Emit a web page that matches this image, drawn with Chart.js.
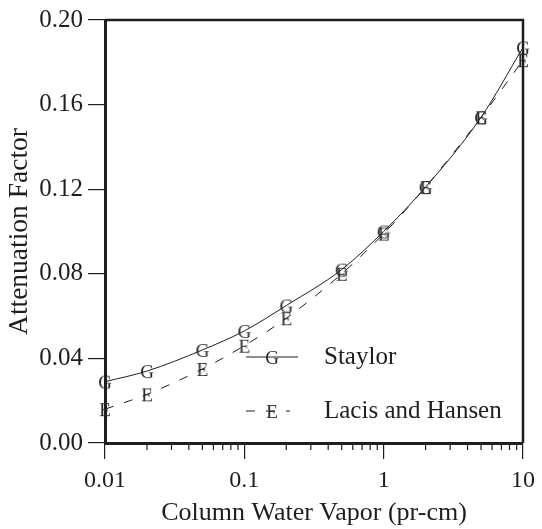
<!DOCTYPE html>
<html>
<head>
<meta charset="utf-8">
<script src="https://cdn.jsdelivr.net/npm/chart.js@4/dist/chart.umd.min.js"></script>
<style>
  html, body { margin: 0; padding: 0; background: #fff; }
  canvas { display: block; }
</style>
</head>
<body>
<canvas id="chart" width="542" height="529"></canvas>
<script>
// water vapour amounts (pr-cm)
const vapor = [0.01, 0.02, 0.05, 0.1, 0.2, 0.5, 1, 2, 5, 10];
const staylor = [0.029, 0.034, 0.044, 0.053, 0.065, 0.082, 0.100, 0.121, 0.154, 0.187];
const lacisHansen = [0.016, 0.023, 0.035, 0.046, 0.059, 0.080, 0.099, 0.121, 0.154, 0.181];

const yTicks = [0, 0.04, 0.08, 0.12, 0.16, 0.20];
const xDecades = [0.01, 0.1, 1, 10];
const seriesNames = ['Staylor', 'Lacis and Hansen'];

const ink = '#1e1e1e';
const serif = '"Liberation Serif", "Times New Roman", serif';

// letters used as point markers
function letterMarker(ch) {
  const c = document.createElement('canvas');
  c.width = 18; c.height = 20;
  const g = c.getContext('2d');
  g.font = '19px "Liberation Serif", serif';
  g.fillStyle = '#2a2a2a';
  g.textAlign = 'center';
  g.textBaseline = 'alphabetic';
  g.fillText(ch, 9, 16.5);
  return c;
}

// minor ticks 2..9 of each decade
const xTickVals = [];
xDecades.forEach((d, i) => {
  xTickVals.push({ value: d, major: true });
  if (i < xDecades.length - 1) {
    for (let k = 2; k <= 9; k++) xTickVals.push({ value: +(d * k).toPrecision(3), major: false });
  }
});

function build() {
  const markG = letterMarker('G');
  const markE = letterMarker('E');

  const frame = {
    id: 'frame',
    afterDraw(chart) {
      const { ctx, chartArea: a } = chart;
      ctx.save();
      ctx.strokeStyle = ink;
      ctx.lineWidth = 2.5;
      ctx.beginPath();
      ctx.moveTo(a.left, a.top);
      ctx.lineTo(a.right, a.top);
      ctx.lineTo(a.right, a.bottom);
      ctx.stroke();
      // short minor ticks on x axis
      const xs = chart.scales.x;
      ctx.lineWidth = 1.2;
      xTickVals.forEach(t => {
        if (t.major) return;
        const px = xs.getPixelForValue(t.value);
        ctx.beginPath();
        ctx.moveTo(px, a.bottom);
        ctx.lineTo(px, a.bottom + 7);
        ctx.stroke();
      });
      // legend inside plot
      const lx = a.left + 141, lw = 52;
      const rows = [a.top + 337, a.top + 391];
      ctx.lineWidth = 1;
      ctx.beginPath();
      ctx.moveTo(lx, rows[0]);
      ctx.lineTo(lx + lw, rows[0]);
      ctx.stroke();
      ctx.drawImage(markG, lx + 26 - 9, rows[0] - 10);
      ctx.setLineDash([9, 11]);
      ctx.beginPath();
      ctx.moveTo(lx, rows[1]);
      ctx.lineTo(lx + lw - 8, rows[1]);
      ctx.stroke();
      ctx.setLineDash([]);
      ctx.drawImage(markE, lx + 26 - 9, rows[1] - 10);
      ctx.fillStyle = ink;
      ctx.font = '25px ' + serif;
      ctx.textBaseline = 'middle';
      ctx.fillText(seriesNames[0], lx + 78, rows[0]);
      ctx.fillText(seriesNames[1], lx + 78, rows[1]);
      ctx.restore();
    }
  };

  const ctx = document.getElementById('chart').getContext('2d');
  new Chart(ctx, {
    type: 'line',
    data: {
      datasets: [
        {
          label: seriesNames[0],
          data: vapor.map((v, i) => ({ x: v, y: staylor[i] })),
          borderColor: ink,
          borderWidth: 1,
          pointStyle: markG,
          cubicInterpolationMode: 'monotone',
          clip: false
        },
        {
          label: seriesNames[1],
          data: vapor.map((v, i) => ({ x: v, y: lacisHansen[i] })),
          borderColor: ink,
          borderWidth: 1,
          borderDash: [9, 11],
          pointStyle: markE,
          cubicInterpolationMode: 'monotone',
          clip: false
        }
      ]
    },
    options: {
      responsive: false,
      animation: false,
      devicePixelRatio: 1,
      layout: { padding: { top: 20, right: 15, left: 0, bottom: 0 } },
      plugins: { legend: { display: false }, tooltip: { enabled: false } },
      scales: {
        x: {
          type: 'logarithmic',
          min: 0.01,
          max: 10,
          afterBuildTicks(scale) { scale.ticks = xTickVals.map(t => ({ value: t.value, major: t.major })); },
          afterFit(scale) { scale.height = 86; },
          border: { display: true, color: ink, width: 3 },
          grid: {
            drawOnChartArea: false,
            tickLength: 16,
            lineWidth: 1.2,
            color: c => (c.tick && c.tick.major) ? ink : 'rgba(0,0,0,0)'
          },
          ticks: {
            autoSkip: false,
            maxRotation: 0,
            padding: 7,
            color: ink,
            font: { family: serif, size: 24 },
            callback: (v) => xDecades.includes(v) ? String(v) : ''
          },
          title: {
            display: true,
            text: 'Column Water Vapor (pr-cm)',
            color: ink,
            font: { family: serif, size: 26 },
            padding: { top: 0, bottom: 0 }
          }
        },
        y: {
          min: 0,
          max: 0.2,
          afterBuildTicks(scale) { scale.ticks = yTicks.map(v => ({ value: v })); },
          afterFit(scale) { scale.width = 105; },
          border: { display: true, color: ink, width: 3 },
          grid: { drawOnChartArea: false, tickLength: 17, lineWidth: 1.2, color: ink },
          ticks: {
            padding: 5,
            color: ink,
            font: { family: serif, size: 25 },
            callback: (v) => v.toFixed(2)
          },
          title: {
            display: true,
            text: 'Attenuation Factor',
            color: ink,
            font: { family: serif, size: 27.5 },
            padding: { top: 3, bottom: 0 }
          }
        }
      }
    },
    plugins: [frame]
  });
}

if (document.fonts && document.fonts.load) {
  Promise.all([
    document.fonts.load('19px "Liberation Serif"'),
    document.fonts.load('25px "Liberation Serif"')
  ]).then(build, build);
} else {
  build();
}
</script>
</body>
</html>
